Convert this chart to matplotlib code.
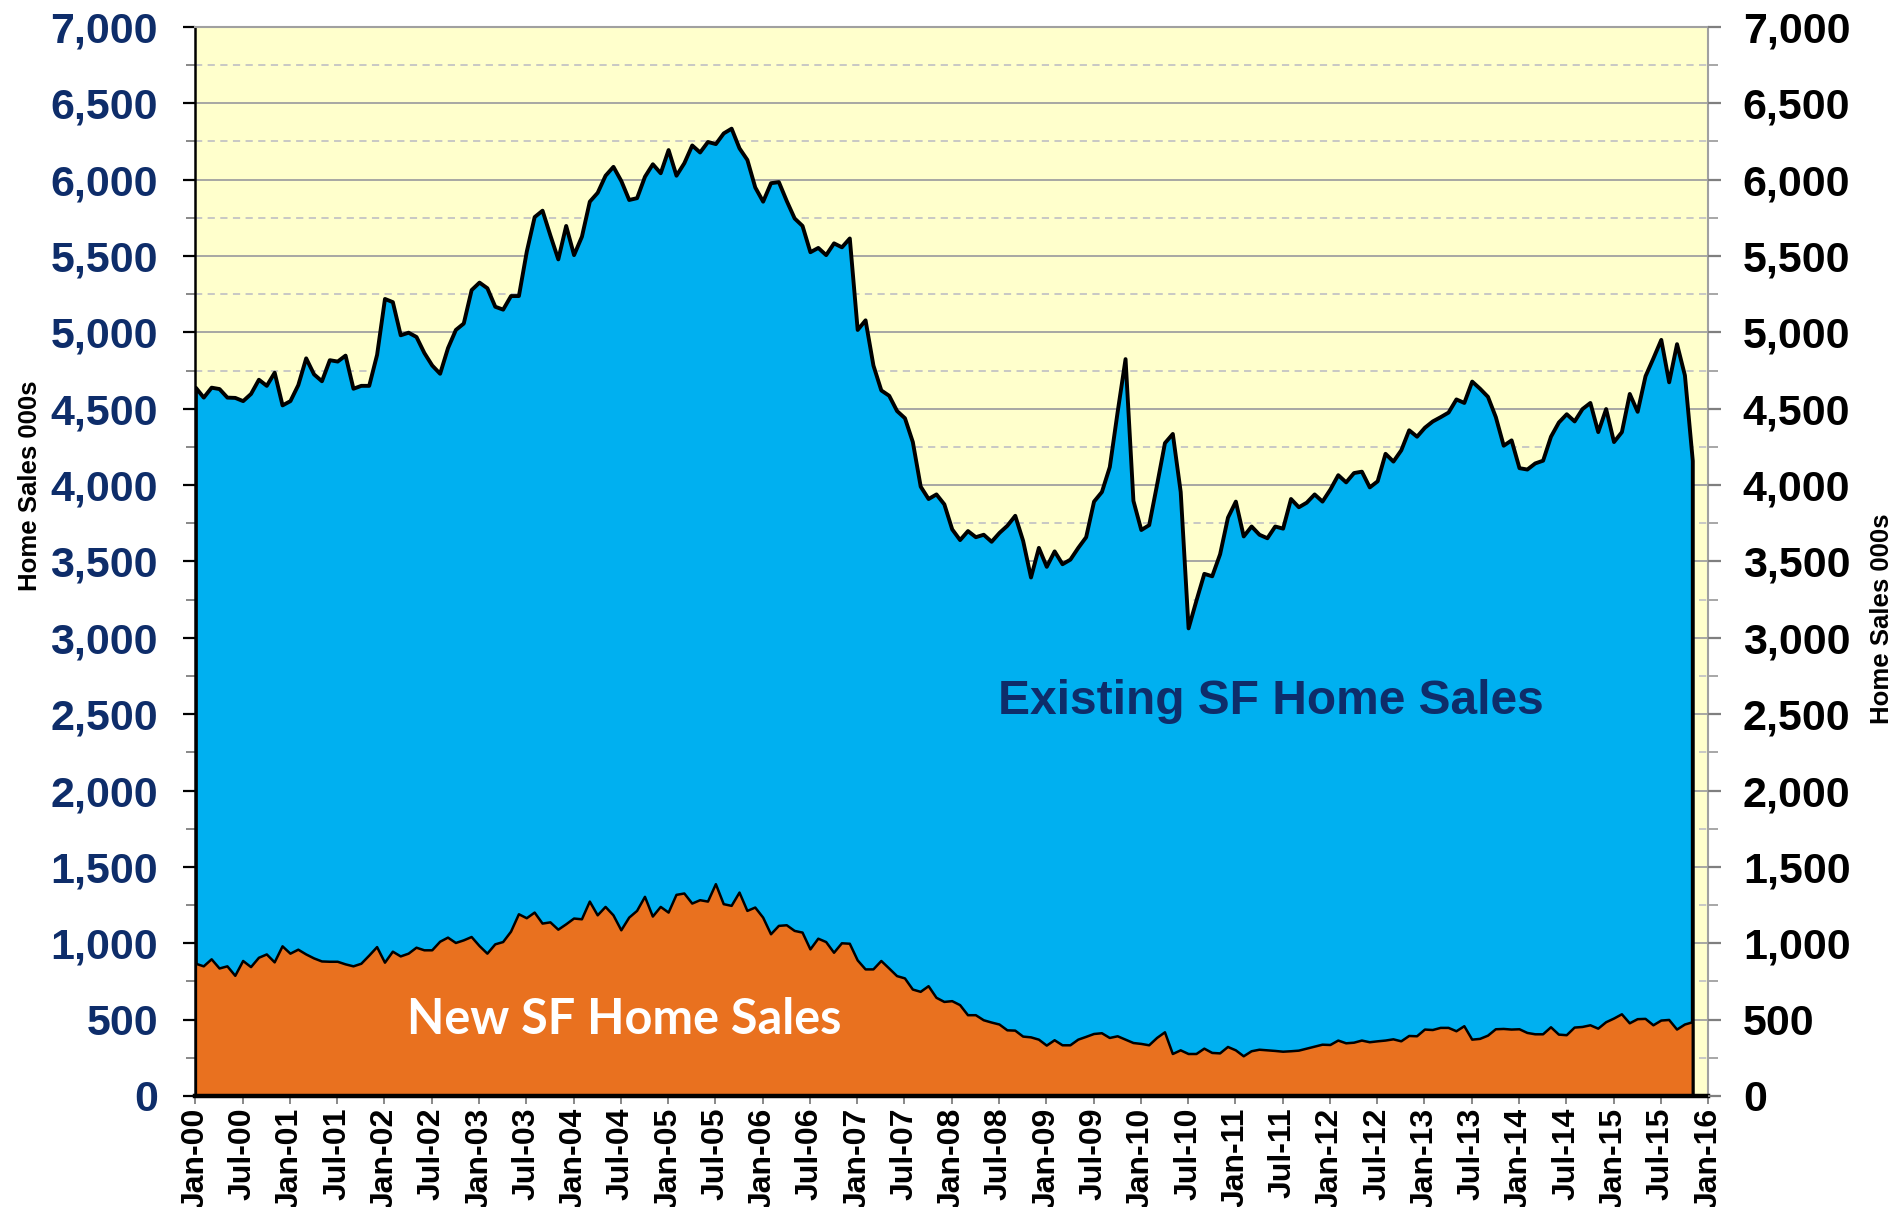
import matplotlib
matplotlib.use("Agg")
import matplotlib.pyplot as plt
import numpy as np
from matplotlib.ticker import FuncFormatter, MultipleLocator, FixedLocator

# ---------------- data (monthly, Jan-2000 .. Nov-2015, thousands SAAR) ----------------
existing_sf = [
    4640, 4576, 4641, 4632, 4576, 4574, 4553, 4600, 4693, 4653, 4739, 4525,   # 2000
    4553, 4658, 4833, 4728, 4683, 4821, 4812, 4851, 4634, 4653, 4653, 4856,   # 2001
    5222, 5201, 4984, 5001, 4973, 4868, 4786, 4732, 4900, 5019, 5061, 5280,   # 2002
    5329, 5292, 5171, 5152, 5241, 5241, 5532, 5758, 5800, 5637, 5481, 5700,   # 2003
    5509, 5630, 5859, 5917, 6029, 6087, 5994, 5870, 5882, 6022, 6104, 6045,   # 2004
    6197, 6029, 6111, 6227, 6181, 6250, 6236, 6306, 6337, 6208, 6132, 5952,   # 2005
    5859, 5980, 5987, 5863, 5749, 5700, 5528, 5556, 5509, 5586, 5560, 5618,   # 2006
    5019, 5082, 4786, 4623, 4588, 4488, 4441, 4285, 3993, 3912, 3942, 3877,   # 2007
    3713, 3643, 3702, 3662, 3678, 3632, 3690, 3737, 3802, 3638, 3398, 3592,   # 2008
    3468, 3569, 3485, 3515, 3592, 3662, 3895, 3958, 4121, 4483, 4828, 3900,   # 2009
    3709, 3741, 4005, 4278, 4338, 3958, 3065, 3247, 3422, 3406, 3550, 3790,   # 2010
    3895, 3667, 3732, 3678, 3655, 3732, 3718, 3912, 3858, 3888, 3942, 3895,   # 2011
    3974, 4068, 4021, 4082, 4091, 3988, 4028, 4208, 4157, 4231, 4362, 4320,   # 2012
    4379, 4420, 4448, 4478, 4564, 4541, 4681, 4634, 4581, 4448, 4261, 4296,   # 2013
    4114, 4105, 4145, 4163, 4320, 4413, 4467, 4420, 4501, 4541, 4350, 4501,   # 2014
    4285, 4350, 4600, 4483, 4716, 4833, 4954, 4676, 4926, 4721, 4161,         # 2015
]
new_sf = [
    869, 852, 898, 838, 852, 790, 887, 847, 908, 930, 878, 983,               # 2000
    935, 961, 930, 904, 884, 882, 882, 865, 852, 869, 922, 978,               # 2001
    876, 948, 917, 935, 974, 957, 957, 1013, 1040, 1005, 1022, 1044,          # 2002
    985, 935, 996, 1011, 1079, 1193, 1167, 1204, 1132, 1140, 1092, 1127,      # 2003
    1165, 1160, 1276, 1186, 1241, 1186, 1088, 1171, 1215, 1307, 1178, 1241,   # 2004
    1204, 1320, 1329, 1263, 1285, 1276, 1390, 1259, 1248, 1335, 1215, 1237,   # 2005
    1171, 1062, 1117, 1121, 1084, 1073, 963, 1033, 1011, 941, 1003, 1000,     # 2006
    891, 832, 832, 887, 838, 788, 773, 700, 685, 722, 646, 619,               # 2007
    624, 598, 532, 532, 499, 484, 471, 433, 431, 392, 387, 372,               # 2008
    333, 368, 335, 335, 372, 390, 409, 414, 383, 394, 372, 350,               # 2009
    344, 335, 383, 420, 278, 302, 278, 278, 313, 285, 282, 324,               # 2010
    302, 263, 296, 306, 302, 298, 293, 296, 300, 313, 326, 339,               # 2011
    337, 366, 348, 352, 366, 355, 361, 366, 374, 361, 396, 394,               # 2012
    438, 435, 449, 449, 427, 460, 372, 377, 398, 440, 442, 438,               # 2013
    440, 416, 407, 407, 453, 405, 401, 451, 455, 466, 444, 486,               # 2014
    510, 538, 479, 506, 508, 466, 497, 501, 438, 471, 486,                    # 2015
]
x_tick_labels = [
    "Jan-00", "Jul-00", "Jan-01", "Jul-01", "Jan-02", "Jul-02", "Jan-03", "Jul-03",
    "Jan-04", "Jul-04", "Jan-05", "Jul-05", "Jan-06", "Jul-06", "Jan-07", "Jul-07",
    "Jan-08", "Jul-08", "Jan-09", "Jul-09", "Jan-10", "Jul-10", "Jan-11", "Jul-11",
    "Jan-12", "Jul-12", "Jan-13", "Jul-13", "Jan-14", "Jul-14", "Jan-15", "Jul-15",
    "Jan-16",
]
y_label = "Home Sales 000s"
existing_label = "Existing SF Home Sales"
new_label = "New SF Home Sales"

# ---------------- style ----------------
FONT = "Liberation Sans"
NAVY = "#0E2D6A"
BLUE = "#00B0F0"
ORANGE = "#E9711F"
BG = "#FFFFCC"

fig = plt.figure(figsize=(18.97, 12.07), dpi=100)
ax = fig.add_axes([0.1030, 0.0920, 0.7974, 0.8857])
ax.set_facecolor(BG)

x = np.arange(len(existing_sf))
ax.fill_between(x, existing_sf, 0, facecolor=BLUE, edgecolor="black",
                linewidth=2.8, zorder=2, joinstyle="round")
ax.fill_between(x, new_sf, 0, facecolor=ORANGE, edgecolor="black",
                linewidth=1.8, zorder=3, joinstyle="round")

ax.set_xlim(0, 6 * (len(x_tick_labels) - 1))
ax.set_ylim(0, 7000)

# grid
ax.yaxis.set_major_locator(MultipleLocator(500))
ax.yaxis.set_minor_locator(MultipleLocator(250))
ax.grid(which="major", axis="y", color="#A0A0A0", linewidth=1.3, linestyle="-", zorder=0)
ax.grid(which="minor", axis="y", color="#C4C4C4", linewidth=1.3, linestyle=(0, (4, 3)), zorder=0)
ax.set_axisbelow(True)

fmt = FuncFormatter(lambda v, p: f"{int(v):,}")
ax.yaxis.set_major_formatter(fmt)
ax.tick_params(axis="y", which="major", length=9, width=1.6, color="black",
               labelsize=31, labelcolor=NAVY, pad=18)
ax.tick_params(axis="y", which="minor", length=6.5, width=1.3, color="#7F7F7F")
for t in ax.get_yticklabels():
    t.set_fontweight("bold")
    t.set_fontfamily(FONT)

ax.xaxis.set_major_locator(FixedLocator(np.arange(0, 6 * len(x_tick_labels), 6)))
ax.set_xticklabels(x_tick_labels, rotation=90, fontsize=23, fontweight="bold",
                   family=FONT, color="black")
ax.tick_params(axis="x", which="major", length=5.5, width=1.3, color="#7F7F7F", pad=3)

for s in ["top", "right"]:
    ax.spines[s].set_color("#A0A0A0")
    ax.spines[s].set_linewidth(1.5)
ax.spines["left"].set_color("black")
ax.spines["left"].set_linewidth(1.8)
ax.spines["bottom"].set_color("black")
ax.spines["bottom"].set_linewidth(3.2)
ax.spines["bottom"].set_zorder(5)

# right axis (mirror)
ax2 = ax.twinx()
ax2.set_ylim(ax.get_ylim())
ax2.yaxis.set_major_locator(MultipleLocator(500))
ax2.yaxis.set_minor_locator(MultipleLocator(250))
ax2.yaxis.set_major_formatter(fmt)
ax2.tick_params(axis="y", which="major", length=9, width=1.6, color="#7F7F7F",
                labelsize=31, labelcolor="black", pad=16)
ax2.tick_params(axis="y", which="minor", length=7, width=1.3, color="#A0A0A0")
for t in ax2.get_yticklabels():
    t.set_fontweight("bold")
    t.set_fontfamily(FONT)
for s in ax2.spines.values():
    s.set_visible(False)

# axis titles
fig.text(30 / 1897, 1 - 486 / 1207, y_label, rotation=90, ha="center", va="center",
         fontsize=18.5, fontweight="bold", family=FONT, color="black")
fig.text(1882 / 1897, 1 - 619 / 1207, y_label, rotation=90, ha="center", va="center",
         fontsize=18.5, fontweight="bold", family=FONT, color="black")

# in-chart labels
ax.text(136.5, 2580, existing_label, ha="center", va="center", fontsize=34.5,
        fontweight="bold", family=FONT, color=NAVY, zorder=6)
ax.text(54.4, 500, new_label, ha="center", va="center", fontsize=35,
        fontweight="bold", family="Lato", color="white", zorder=6)

fig.savefig("out.png", dpi=100)
